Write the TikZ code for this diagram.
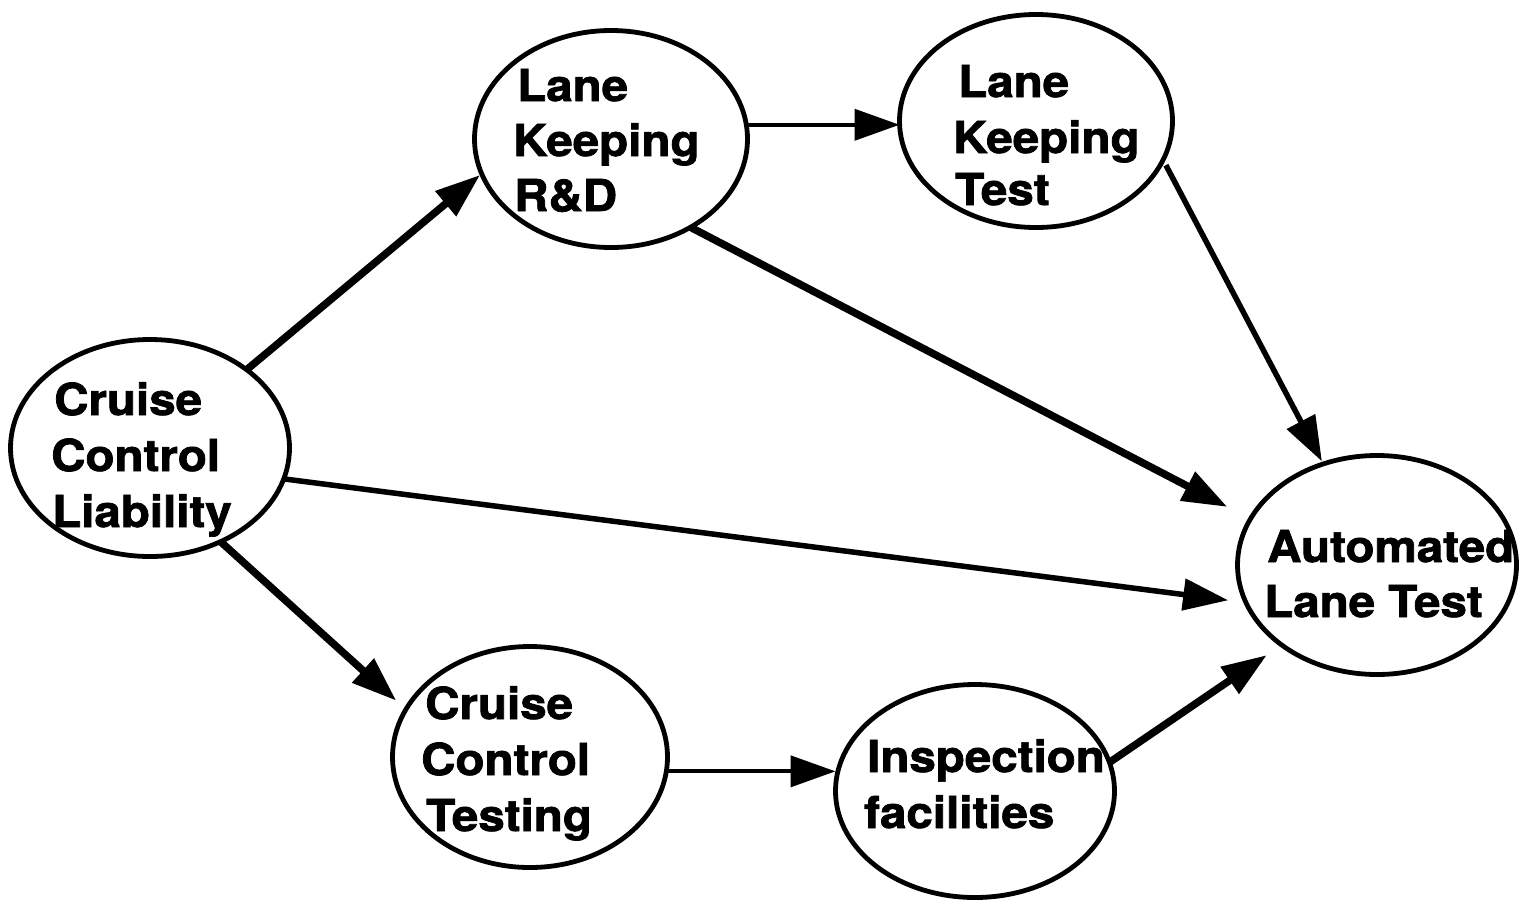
\documentclass[tikz,border=0pt]{standalone}
\usepackage{fontspec}
\setmainfont{TeX Gyre Heros}[BoldFeatures={FakeBold=1.6}]
\usepackage{graphicx}
\usetikzlibrary{shapes.geometric,arrows.meta}
\newcommand\sx[1]{\scalebox{1.08}[1]{#1}}
\begin{document}
\begin{tikzpicture}[x=1pt,y=-1pt,
  ell/.style={draw, ellipse, line width=4.8pt, inner sep=0pt, outer sep=0pt},
  lbl/.style={anchor=base west, inner sep=0pt, font=\fontsize{44}{56}\selectfont\bfseries},
  arr/.style={-{Triangle[length=45pt,width=31pt]}},
  thickarr/.style={arr, line width=7.5pt},
  medarr/.style={arr, line width=5.5pt},
  thinarr/.style={arr, line width=4pt}]
\fill[white] (0,0) rectangle (1534,903);
\useasboundingbox (0,0) rectangle (1534,903);

% ellipses
\node[ell, minimum width=279pt, minimum height=217pt] (ccl)  at (150,448)  {};
\node[ell, minimum width=273pt, minimum height=217pt] (lkrd) at (611,139)  {};
\node[ell, minimum width=273pt, minimum height=213pt] (lkt)  at (1036,121) {};
\node[ell, minimum width=279pt, minimum height=219pt] (alt)  at (1377,565) {};
\node[ell, minimum width=275pt, minimum height=221pt] (cct)  at (530,757)  {};
\node[ell, minimum width=279pt, minimum height=213pt] (insp) at (975,791)  {};

% labels
\node[lbl] (ccl1) at (54,415) {\sx{Cruise}};
\node[lbl] (ccl2) at (51,471) {\sx{Control}};
\node[lbl] (ccl3) at (52,527) {\sx{Liability}};

\node[lbl] (lkrd1) at (517,101) {\sx{Lane}};
\node[lbl] (lkrd2) at (513,156) {\sx{Keeping}};
\node[lbl] (lkrd3) at (514,211) {\sx{R\&D}};

\node[lbl] (lkt1) at (958,97)  {\sx{Lane}};
\node[lbl] (lkt2) at (953,153) {\sx{Keeping}};
\node[lbl] (lkt3) at (955,205) {\sx{Test}};

\node[lbl] (alt1) at (1267,562) {\sx{Automated}};
\node[lbl] (alt2) at (1264,617) {\sx{Lane Test}};

\node[lbl] (cct1) at (425,719) {\sx{Cruise}};
\node[lbl] (cct2) at (421,775) {\sx{Control}};
\node[lbl] (cct3) at (426,831) {\sx{Testing}};

\node[lbl] (insp1) at (867,772) {\sx{Inspection}};
\node[lbl] (insp2) at (864,828) {\sx{facilities}};

% connectors
\draw[thickarr, shorten >=2pt] (ccl.39) -- (lkrd.195);
\draw[thinarr] (lkrd.6) -- (lkrd.6 -| lkt.west);
\draw[thickarr, shorten >=26pt] (lkrd.-48) -- (alt.160);
\draw[medarr, shorten <=6pt, shorten >=3pt] (lkt.-17) -- (alt.118);
\draw[medarr, shorten >=18pt] (ccl.-13) -- (alt.196);
\draw[thickarr, shorten >=13pt] (ccl.-53) -- (cct.159);
\draw[thinarr] (cct.-6) -- (cct.-6 -| insp.west);
\draw[thickarr, shorten >=18pt] (insp.12) -- (alt.220);
\end{tikzpicture}
\end{document}
